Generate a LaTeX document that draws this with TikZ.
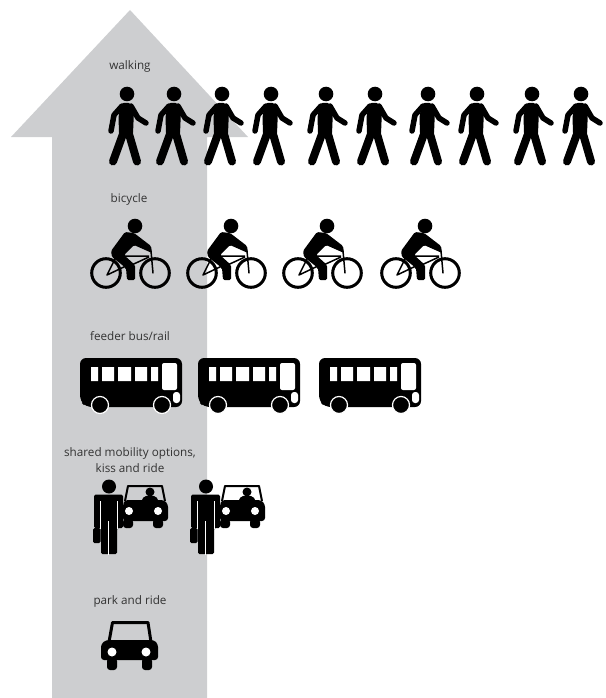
\documentclass[tikz,border=0pt]{standalone}
\usepackage{fontspec}
\setmainfont{Open Sans}
\definecolor{arrowgrey}{HTML}{CDCED0}
\definecolor{labelgrey}{HTML}{333333}
\tikzset{
  lbl/.style={font=\fontsize{11.7}{16}\selectfont,text=labelgrey,align=center,inner sep=0pt},
  limb/.style={line cap=round,line join=round,draw=black},
  walkerpic/.pic={
    \fill (0,0) circle (7.3);
    \fill[rounded corners=1.5] (-5,9) -- (3,9) -- (7,16) -- (6,40) -- (-8,40) -- (-8.5,22) -- cycle;
    \draw[limb,line width=5.5] (-5,12) -- (-13,21) -- (-16,37);
    \draw[limb,line width=5.5] (4,12) -- (11,24) -- (19,29);
    \draw[limb,line width=8] (-4,40) -- (-14,67.5);
    \draw[limb,line width=8] (2,40) -- (10,67.5);
  },
  bikepic/.pic={
    % wheels are at (0,0) and (49,0), the head at (29,-47)
    \draw[line width=3] (0,0) circle (14.3) (49,0) circle (14.3);
    \fill (29,-47) circle (7.3);
    \fill[rounded corners=1.5] (19,-41) -- (28,-40) -- (45,-27) -- (46,-20) -- (28,-28) -- (18,-18) -- (29,-8) -- (29,7) -- (21,7) -- (20,-5) -- (6,-16) -- (5,-22) -- cycle;
    \draw[line width=1.5,line cap=round] (45,-22) -- (47,0);
    \draw[line width=1.5] (8,-17) -- (43,-17) (19,-5) -- (43,-16);
    \draw[line width=1.5,line join=round] (9,-14) -- (1,2) -- (20,-7);
  },
  buspic/.pic={
    \fill[rounded corners=6] (0,0) -- (102,0) -- (102,49) -- (6,49) -- (0,43) -- cycle;
    \fill[white] (11,9) rectangle (18,23) (22,9) rectangle (34,23) (38,9) rectangle (51,23) (55,9) rectangle (67,23) (71,9) rectangle (78,23);
    \fill[white,rounded corners=2] (82,5) rectangle (97,32);
    \fill[white,rounded corners=3] (93,34) rectangle (100,45);
    \fill[black,draw=white,line width=1.2] (20,47) circle (8.5) (82,47) circle (8.5);
  },
  carpic/.pic={
    % origin at the top left corner of the outline
    \draw[line width=3,line join=round] (8,21) -- (11.5,1.5) -- (47,1.5) -- (50,21);
    \fill[rounded corners=3] (5,19) -- (53,19) -- (57,23) -- (57,39) -- (0,39) -- (0,23) -- cycle;
    \fill[rounded corners=3] (6,37) rectangle (16,49) (41,37) rectangle (51,49);
    \fill[white] (11,31) circle (4.5) (45,31) circle (4.5);
  },
  kisspic/.pic={
    % origin is the head of the person
    \fill (0,-0.5) circle (7);
    \fill[rounded corners=1.5] (-15,7.5) -- (14,7.5) -- (14,41) -- (8,41) -- (8,67) -- (-8,67) -- (-8,41) -- (-15,41) -- cycle;
    \draw[white,line width=1] (-1,34) -- (-1,68);
    \draw[white,line width=0.9] (-9,14) -- (-9,42) (8,14) -- (8,42);
    \fill[rounded corners=1.5] (-16,41) rectangle (-8.5,56);
    % car
    \draw[line width=2,line join=round] (16,14) -- (19,-1) -- (53,-1) -- (56,14);
    \fill[rounded corners=3] (16,13) -- (55,13) -- (59,17) -- (59,34) -- (14,34) -- (14,17) -- cycle;
    \fill[rounded corners=3] (14,32) rectangle (24,41) (44,32) rectangle (54,41);
    \fill[white] (20,24) circle (4) (49,24) circle (4);
    \fill (41,5) circle (4.5);
    \fill[rounded corners=2] (32,15) -- (35,9) -- (47,9) -- (50,15) -- cycle;
  }
}
\begin{document}
\begin{tikzpicture}[x=1pt,y=-1pt]
\useasboundingbox (0,0) rectangle (605,698);
\fill[arrowgrey] (130,10) -- (248,137) -- (207,137) -- (207,698) -- (52,698) -- (52,137) -- (11,137) -- cycle;

\node[lbl] (walking) at (130,66) {walking};
\node[lbl] (bicycle) at (129,199) {bicycle};
\node[lbl] (feeder) at (130,336) {feeder bus/rail};
\node[lbl] (shared) at (130,460) {shared mobility options,\\kiss and ride};
\node[lbl] (park) at (130,601) {park and ride};

\foreach \x in {127,174,222,271,326,375,428,477,532,581}
  \pic at (\x,94) {walkerpic};
\foreach \x in {106,202,298,396}
  \pic at (\x,273) {bikepic};
\foreach \x in {80,198,319}
  \pic at (\x,358) {buspic};
\foreach \x in {109,206}
  \pic at (\x,487) {kisspic};
\pic at (101,621) {carpic};
\end{tikzpicture}
\end{document}
